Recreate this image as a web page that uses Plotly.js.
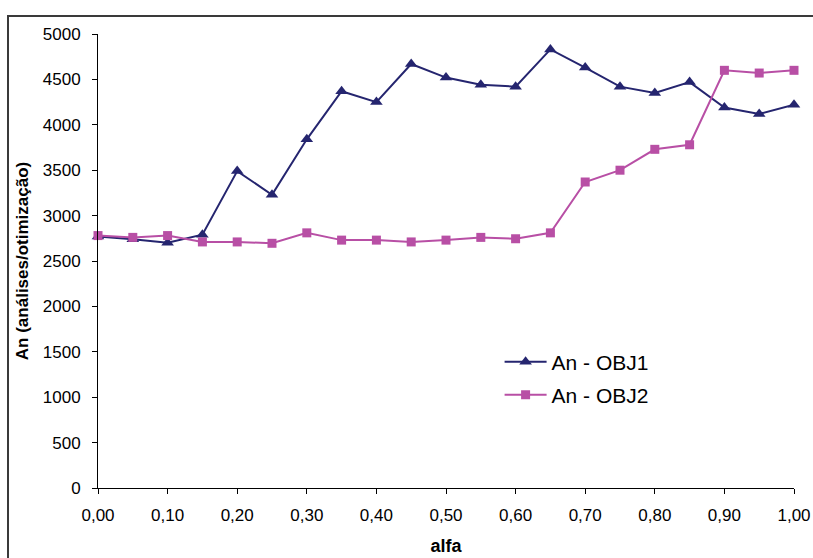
<!DOCTYPE html>
<html>
<head>
<meta charset="utf-8">
<script src="https://cdn.plot.ly/plotly-3.0.1.min.js"></script>
<style>html,body{margin:0;padding:0;background:#fff;}#chart{width:813px;height:558px;}</style>
</head>
<body>
<div id="chart"></div>
<script>
const alfa = [0.00,0.05,0.10,0.15,0.20,0.25,0.30,0.35,0.40,0.45,0.50,0.55,0.60,0.65,0.70,0.75,0.80,0.85,0.90,0.95,1.00];
const anObj1 = [2770,2740,2700,2790,3490,3230,3840,4370,4250,4670,4520,4440,4420,4830,4630,4420,4350,4470,4190,4120,4220];
const anObj2 = [2780,2760,2780,2710,2710,2695,2810,2730,2730,2710,2730,2760,2745,2810,3370,3500,3730,3780,4600,4570,4600];
const xTickVals = [0,0.1,0.2,0.3,0.4,0.5,0.6,0.7,0.8,0.9,1.0];
const xTickLabels = ['0,00','0,10','0,20','0,30','0,40','0,50','0,60','0,70','0,80','0,90','1,00'];
const seriesNames = ['An - OBJ1','An - OBJ2'];

const font = 'Liberation Sans, Arial, sans-serif';
const traces = [
  {x: alfa, y: anObj1, name: seriesNames[0], mode: 'lines+markers', cliponaxis: false,
   line: {color: '#25256F', width: 2}, marker: {symbol: 'triangle-up', size: 11, color: '#25256F'}, legend: 'legend'},
  {x: alfa, y: anObj2, name: seriesNames[1], mode: 'lines+markers', cliponaxis: false,
   line: {color: '#B84FA5', width: 2}, marker: {symbol: 'square', size: 9, color: '#B84FA5'}, legend: 'legend2'}
];
const layout = {
  width: 813, height: 558,
  margin: {l: 98, r: 19, t: 34, b: 70},
  paper_bgcolor: '#fff', plot_bgcolor: '#fff',
  font: {family: font, color: '#000', size: 17},
  showlegend: true,
  legend: {x: 0.577, y: 0.2775, xanchor: 'left', yanchor: 'middle', itemwidth: 42, font: {size: 21, family: font}, bgcolor: 'rgba(0,0,0,0)'},
  legend2: {x: 0.577, y: 0.2048, xanchor: 'left', yanchor: 'middle', itemwidth: 42, font: {size: 21, family: font}, bgcolor: 'rgba(0,0,0,0)'},
  xaxis: {
    range: [0, 1], tickvals: xTickVals, ticktext: xTickLabels,
    showgrid: false, zeroline: false, showline: true, linecolor: '#000', linewidth: 1,
    ticks: 'outside', ticklen: 5, tickcolor: '#000', ticklabelstandoff: 7,
    tickfont: {size: 17, family: font},
    title: {text: '<b>alfa</b>', font: {size: 18, family: font}, standoff: 14}
  },
  yaxis: {
    range: [0, 5000], dtick: 500, tick0: 0,
    showgrid: false, zeroline: false, showline: true, linecolor: '#000', linewidth: 1,
    ticks: 'outside', ticklen: 5, tickcolor: '#000', ticklabelstandoff: 8,
    tickfont: {size: 17, family: font},
    title: {text: '<b>An (análises/otimização)</b>', font: {size: 17, family: font}, standoff: 9}
  },
  shapes: [
    {type: 'rect', xref: 'paper', yref: 'paper', x0: -0.1293, x1: 1.1, y0: -0.3, y1: 1.0396,
     line: {color: '#3a3a3a', width: 2}, fillcolor: 'rgba(0,0,0,0)', layer: 'below'}
  ]
};
Plotly.newPlot('chart', traces, layout, {displayModeBar: false, staticPlot: true});
</script>
</body>
</html>
